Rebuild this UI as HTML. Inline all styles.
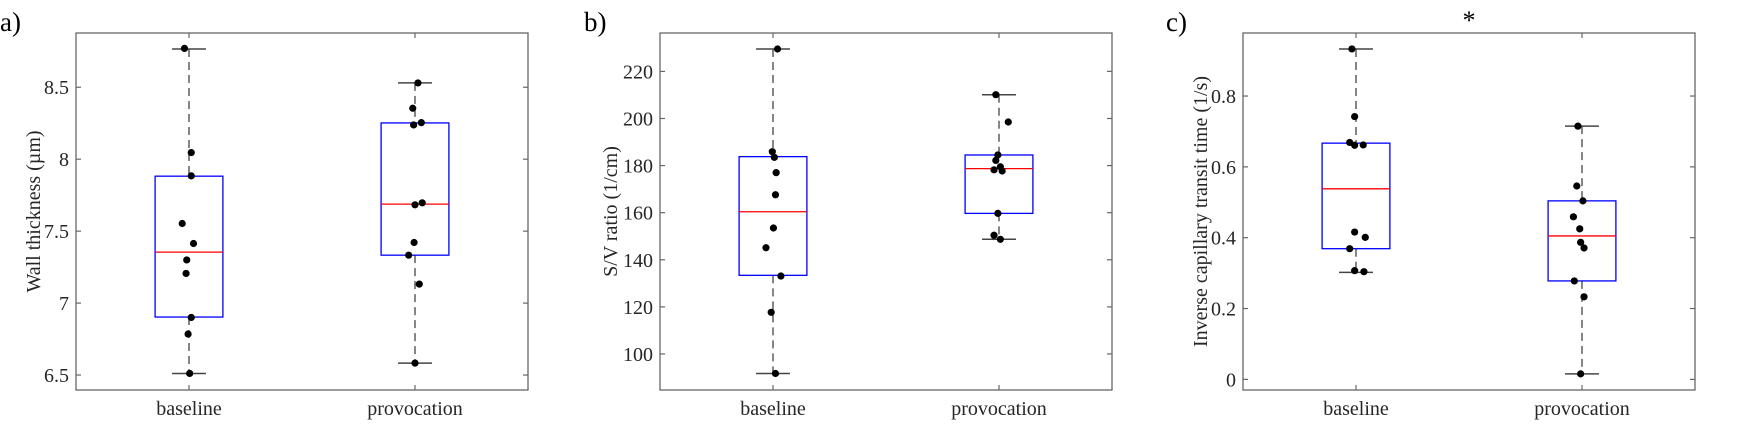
<!DOCTYPE html>
<html><head><meta charset="utf-8"><style>
html,body{margin:0;padding:0;background:#fff;}
svg, svg text{font-family:"Liberation Serif","DejaVu Serif",serif;}
svg{display:block;}
</style></head><body>
<svg id="fig" width="1750" height="438" viewBox="0 0 1750 438" xmlns="http://www.w3.org/2000/svg"></svg>
<script>
const categories = ["baseline", "provocation"];
// panel a: wall thickness
const aBase = [8.77, 8.046, 7.884, 7.553, 7.414, 7.30, 7.206, 6.90, 6.785, 6.511];
const aProv = [8.53, 8.354, 8.238, 8.254, 7.683, 7.697, 7.421, 7.333, 7.132, 6.583];
const aBaseJit = [-0.02, 0.01, 0.01, -0.03, 0.02, -0.01, -0.013, 0.01, -0.004, 0.003];
const aProvJit = [0.013, -0.01, -0.006, 0.028, 0, 0.032, -0.004, -0.028, 0.019, 0];
const aBaseStats = [6.511, 6.903, 7.354, 7.882, 8.766];
const aProvStats = [6.583, 7.333, 7.688, 8.252, 8.53];
const aTicks = [6.5, 7, 7.5, 8, 8.5];
const aTickLabels = ["6.5", "7", "7.5", "8", "8.5"];
// panel b: S/V ratio
const bBase = [229.5, 185.9, 183.5, 177.0, 167.6, 153.5, 145.1, 133.1, 117.7, 91.7];
const bProv = [210.1, 198.5, 184.5, 182.2, 179.5, 178.2, 177.7, 159.7, 150.4, 148.7];
const bBaseJit = [0.02, -0.003, 0.006, 0.014, 0.011, 0.002, -0.031, 0.035, -0.008, 0.011];
const bProvJit = [-0.014, 0.041, -0.005, -0.014, 0.006, -0.022, 0.014, -0.005, -0.022, 0.006];
const bBaseStats = [91.7, 133.4, 160.4, 183.8, 229.5];
const bProvStats = [148.7, 159.7, 178.7, 184.5, 210.1];
const bTicks = [100, 120, 140, 160, 180, 200, 220];
const bTickLabels = ["100", "120", "140", "160", "180", "200", "220"];
// panel c: inverse capillary transit time
const cBase = [0.933, 0.742, 0.669, 0.661, 0.662, 0.416, 0.401, 0.369, 0.307, 0.304];
const cProv = [0.715, 0.546, 0.504, 0.459, 0.425, 0.387, 0.371, 0.278, 0.233, 0.0155];
const cBaseJit = [-0.018, -0.006, -0.028, -0.006, 0.032, -0.006, 0.041, -0.028, -0.006, 0.035];
const cProvJit = [-0.018, -0.023, 0.004, -0.038, -0.01, -0.006, 0.009, -0.034, 0.009, -0.006];
const cBaseStats = [0.302, 0.369, 0.538, 0.667, 0.933];
const cProvStats = [0.0155, 0.278, 0.405, 0.504, 0.715];
const cTicks = [0, 0.2, 0.4, 0.6, 0.8];
const cTickLabels = ["0", "0.2", "0.4", "0.6", "0.8"];

const NS = "http://www.w3.org/2000/svg";
const FONT = '"Liberation Serif", "DejaVu Serif", serif';
const svg = document.getElementById("fig");
function mk(tag, attrs, parent, text) {
  const e = document.createElementNS(NS, tag);
  for (const k in attrs) e.setAttribute(k, attrs[k]);
  if (tag === "text") e.setAttribute("font-family", FONT);
  if (text !== undefined) e.textContent = text;
  (parent || svg).appendChild(e);
  return e;
}
const TOP = 33, BOT = 390, W = 452;
function panel(id, left, ymin, ymax, ticks, tickLabels, stats, pts, jits, ylabel, ylabelX, letter, letterX) {
  const g = mk("g", {}, svg);
  
  
  const x = v => left + (v - 0.5) / 2 * W;
  const y = v => BOT - (v - ymin) / (ymax - ymin) * (BOT - TOP);
  const box = mk("rect", {x: left, y: TOP, width: W, height: BOT - TOP, fill: "none", stroke: "#666", "stroke-width": 1.3}, g);
  
  
  ticks.forEach((t, i) => {
    const yy = y(t);
    mk("line", {x1: left, x2: left + 5, y1: yy, y2: yy, stroke: "#666", "stroke-width": 1.2}, g);
    mk("line", {x1: left + W, x2: left + W - 5, y1: yy, y2: yy, stroke: "#666", "stroke-width": 1.2}, g);
    const tl = mk("text", {x: left - 7, y: yy + 7, "text-anchor": "end", "font-size": 20, fill: "#262626"}, g, tickLabels[i]);
    
    
  });
  categories.forEach((c, i) => {
    const xx = x(i + 1);
    mk("line", {x1: xx, x2: xx, y1: BOT, y2: BOT - 5, stroke: "#666", "stroke-width": 1.2}, g);
    mk("line", {x1: xx, x2: xx, y1: TOP, y2: TOP + 5, stroke: "#666", "stroke-width": 1.2}, g);
    const tl = mk("text", {x: xx, y: 415, "text-anchor": "middle", "font-size": 20, fill: "#262626"}, g, c);
    
    
  });
  stats.forEach((s, i) => {
    const cx = x(i + 1);
    const hw = 0.15 / 2 * W, cw = 0.075 / 2 * W;
    const wl = mk("line", {x1: cx, x2: cx, y1: y(s[4]), y2: y(s[3]), stroke: "#444", "stroke-width": 1.3, "stroke-dasharray": "8,5"}, g);
    
    
    const wl2 = mk("line", {x1: cx, x2: cx, y1: y(s[1]), y2: y(s[0]), stroke: "#444", "stroke-width": 1.3, "stroke-dasharray": "8,5"}, g);
    
    
    [s[0], s[4]].forEach(v => {
      const cap = mk("line", {x1: cx - cw, x2: cx + cw, y1: y(v), y2: y(v), stroke: "#444", "stroke-width": 1.5}, g);
      
      
    });
    const r = mk("rect", {x: cx - hw, y: y(s[3]), width: 2 * hw, height: y(s[1]) - y(s[3]), fill: "none", stroke: "#0000ff", "stroke-width": 1.3}, g);
    
    
    const m = mk("line", {x1: cx - hw, x2: cx + hw, y1: y(s[2]), y2: y(s[2]), stroke: "#ff0000", "stroke-width": 1.3}, g);
    
    
  });
  pts.forEach((arr, i) => {
    arr.forEach((v, j) => {
      const p = mk("circle", {cx: x(i + 1 + jits[i][j]), cy: y(v), r: 3.6, fill: "#000"}, g);
      
      
    });
  });
  const yl = mk("text", {x: 0, y: 0, transform: "translate(" + ylabelX + "," + ((TOP + BOT) / 2) + ") rotate(-90)", "text-anchor": "middle", "font-size": 20, fill: "#262626"}, g, ylabel);
  
  
  const lt = mk("text", {x: letterX, y: 31, "font-size": 27, fill: "#000"}, g, letter);
  
  
}
panel("wall-thickness", 76, 6.396, 8.877, aTicks, aTickLabels, [aBaseStats, aProvStats], [aBase, aProv], [aBaseJit, aProvJit], "Wall thickness (µm)", 40, "a)", 0);
panel("sv-ratio", 660, 84.7, 236.3, bTicks, bTickLabels, [bBaseStats, bProvStats], [bBase, bProv], [bBaseJit, bProvJit], "S/V ratio (1/cm)", 617, "b)", 584);
panel("transit-time", 1243, -0.030, 0.978, cTicks, cTickLabels, [cBaseStats, cProvStats], [cBase, cProv], [cBaseJit, cProvJit], "Inverse capillary transit time (1/s)", 1207, "c)", 1166);
const star = mk("text", {x: 1469, y: 29, "text-anchor": "middle", "font-size": 26, fill: "#000"}, svg, "*");


</script>
</body></html>
